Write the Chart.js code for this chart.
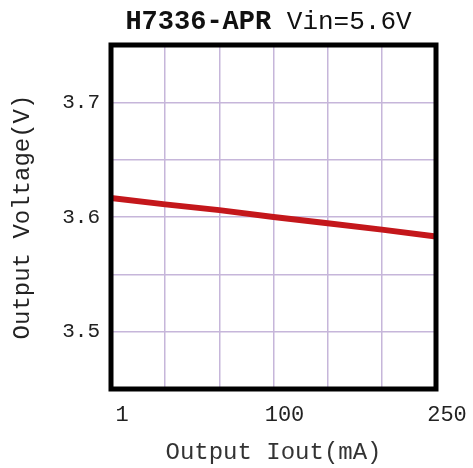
<!DOCTYPE html>
<html>
<head>
<meta charset="utf-8">
<script src="https://cdn.jsdelivr.net/npm/chart.js@4/dist/chart.umd.min.js"></script>
<style>
  html, body { margin: 0; padding: 0; background: #fff; }
  canvas { display: block; }
</style>
</head>
<body>
<canvas id="regChart" width="473" height="468"></canvas>
<script>
// Output current (mA) along the bottom, one entry per grid column
const currentLabels = ['1', '', '', '100', '', '', '250'];
// Output voltage (V) read at each grid line
const outputVoltage = [3.6165, 3.611, 3.606, 3.600, 3.5945, 3.589, 3.583];
// Labelled voltage ticks
const voltageTicks = [3.5, 3.6, 3.7];

const titlePart = 'H7336-APR';
const subtitlePart = ' Vin=5.6V';

const MONO = '"Liberation Mono", "DejaVu Sans Mono", monospace';

// frame around the plot plus the two-weight title
const framePlugin = {
    id: 'frame',
    afterDatasetsDraw(chart) {
        const { ctx, chartArea: a } = chart;
        ctx.save();
        ctx.strokeStyle = '#000';
        ctx.lineWidth = 5;
        ctx.strokeRect(a.left, a.top, a.right - a.left, a.bottom - a.top);
        ctx.restore();
    },
    afterDraw(chart) {
        const { ctx, chartArea: a } = chart;
        ctx.save();
        ctx.fillStyle = '#111';
        ctx.textBaseline = 'middle';
        ctx.font = 'bold 27px ' + MONO;
        const w1 = ctx.measureText(titlePart).width;
        ctx.font = '26px ' + MONO;
        const w2 = ctx.measureText(subtitlePart).width;
        const x0 = (a.left + a.right) / 2 - 5 - (w1 + w2) / 2;
        ctx.font = 'bold 27px ' + MONO;
        ctx.fillText(titlePart, x0, 22);
        ctx.font = '26px ' + MONO;
        ctx.fillText(subtitlePart, x0 + w1, 22);
        ctx.restore();
    }
};

new Chart(document.getElementById('regChart'), {
    type: 'line',
    data: {
        labels: currentLabels,
        datasets: [{
            label: 'Output Voltage',
            data: outputVoltage,
            borderColor: '#c4171b',
            borderWidth: 6,
            pointRadius: 0,
            tension: 0
        }]
    },
    options: {
        responsive: false,
        animation: false,
        devicePixelRatio: 1,
        layout: { padding: { left: 0, top: 45, right: 37, bottom: 0 } },
        plugins: {
            legend: { display: false },
            tooltip: { enabled: false }
        },
        scales: {
            x: {
                type: 'category',
                offset: false,
                border: { display: false },
                grid: { color: '#c6b6da', lineWidth: 1.5, drawTicks: false },
                ticks: {
                    autoSkip: false,
                    maxRotation: 0,
                    labelOffset: 11,
                    padding: 13,
                    color: '#222',
                    font: { family: MONO, size: 22 }
                },
                title: {
                    display: true,
                    text: 'Output Iout(mA)',
                    color: '#333',
                    padding: { top: 0, bottom: 1 },
                    font: { family: MONO, size: 24 }
                },
                afterFit(scale) {
                    scale.height = 79;
                    scale.paddingLeft = 0;
                    scale.paddingRight = 0;
                }
            },
            y: {
                min: 3.45,
                max: 3.75,
                border: { display: false },
                grid: { color: '#c6b6da', lineWidth: 1.5, drawTicks: false },
                ticks: {
                    stepSize: 0.05,
                    padding: 11,
                    color: '#222',
                    font: { family: MONO, size: 21 },
                    callback(value) {
                        const hit = voltageTicks.find(t => Math.abs(t - value) < 1e-6);
                        return hit === undefined ? '' : hit.toFixed(1);
                    }
                },
                title: {
                    display: true,
                    text: 'Output Voltage(V)',
                    color: '#222',
                    padding: { top: 8, bottom: 0 },
                    font: { family: MONO, size: 24 }
                },
                afterFit(scale) {
                    scale.width = 111;
                    scale.paddingTop = 0;
                    scale.paddingBottom = 0;
                }
            }
        }
    },
    plugins: [framePlugin]
});
</script>
</body>
</html>
